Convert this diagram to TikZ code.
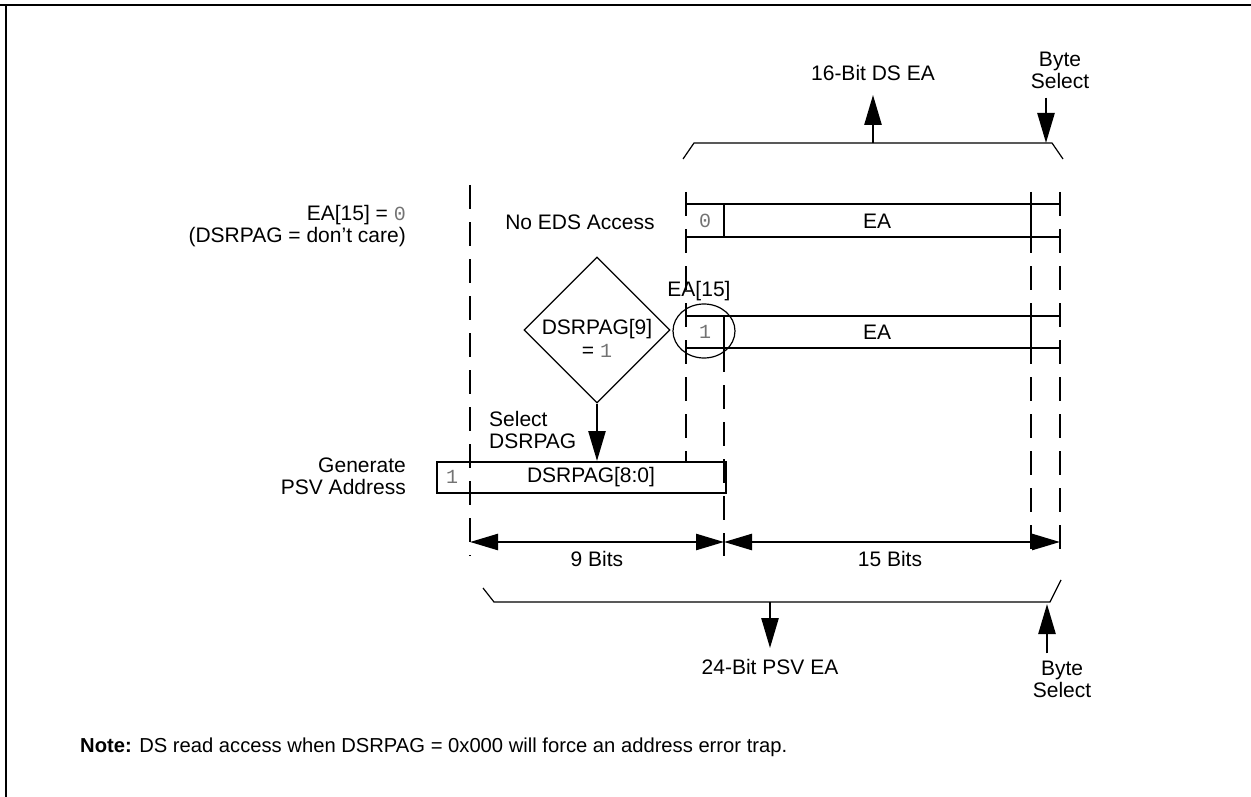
\documentclass[tikz,border=0pt]{standalone}
\usepackage{fontspec}
\setmainfont{Liberation Sans}
\newfontfamily\monof{Liberation Mono}
\usetikzlibrary{arrows.meta,shapes.geometric}
\definecolor{bitgray}{gray}{0.45}
\begin{document}
\begin{tikzpicture}[x=1pt,y=-1pt,
  txt/.style={font=\fontsize{21}{22}\selectfont, inner sep=0pt, align=center},
  bit/.style={font=\monof\fontsize{20}{22}\selectfont, text=bitgray, inner sep=0pt},
  dashv/.style={line width=2.3pt, dash pattern=on 24pt off 13pt},
  reg/.style={line width=2pt},
  thinl/.style={line width=1.2pt},
  arr/.style={line width=2.5pt, -{Triangle[length=30pt,width=17pt]}},
  dimarr/.style={line width=2.5pt, {Triangle[length=28pt,width=16pt]}-{Triangle[length=28pt,width=16pt]}}]
\useasboundingbox (0,0) rectangle (1251,797);
% frame
\draw[line width=2.5pt] (0,5) -- (1251,5);
\draw[line width=2pt] (6,5) -- (6,797);

% dashed column guides
\coordinate (v1t) at (470,185); \coordinate (v1b) at (470,556);
\coordinate (v2t) at (686,192); \coordinate (v2b) at (686,462);
\coordinate (v3t) at (724,348); \coordinate (v3b) at (724,556);
\coordinate (v4t) at (1031,192); \coordinate (v4b) at (1031,556);
\coordinate (v5t) at (1060,192); \coordinate (v5b) at (1060,556);

% top brace
\coordinate (tb1) at (683,159); \coordinate (tb2) at (694,143);
\coordinate (tb3) at (1052,143); \coordinate (tb4) at (1063,159);
\coordinate (tbm) at (873,143);
\coordinate (tbs) at (1046,143);
\draw[thinl] (tb1) -- (tb2) -- (tb3) -- (tb4);
\node[txt] (ds16) at (873,73) {16-Bit DS EA};
\draw[arr] (tbm) -- ([yshift=-14pt]ds16.south);
\node[txt] (bsT) at (1060,70) {Byte\\Select};
\draw[arr] ([yshift=-9pt]bsT.south -| tbs) -- (tbs);

% row 1
\coordinate (r1a) at (686,204); \coordinate (r1b) at (1060,204);
\coordinate (r1c) at (686,237); \coordinate (r1d) at (1060,237);
\draw[reg] (r1a) -- (r1b); \draw[reg] (r1c) -- (r1d);
\draw[reg] (724,204) -- (724,237);
\draw[reg] (1031,204) -- (1031,237);
\node[bit] (b0) at (705,221) {0};
\node[txt] (ea1) at (877,221) {EA};
\node[txt] (noeds) at (580,222) {No EDS Access};

% row 2
\coordinate (r2a) at (686,316); \coordinate (r2b) at (1060,316);
\coordinate (r2c) at (686,348); \coordinate (r2d) at (1060,348);
\draw[reg] (r2a) -- (r2b); \draw[reg] (r2c) -- (r2d);
\draw[reg] (724,316) -- (724,348);
\draw[reg] (1031,316) -- (1031,348);
\node[bit] (b1) at (705,332) {1};
\node[txt] (ea2) at (877,332) {EA};
\node[draw, thinl, ellipse, minimum width=62pt, minimum height=54pt, inner sep=0pt] (circ) at (704,331) {};
\node[txt] (ea15) at (699,291) {EA[15]};

% diamond
\node[draw, thinl, diamond, minimum width=146pt, minimum height=146pt, inner sep=0pt] (dia) at (597,330) {};
\node[txt] (diat) at (597,329) {DSRPAG[9]};
\node[txt] (diaeq) at (597,351) {= {\monof\fontsize{20}{22}\selectfont\color{bitgray}1}};

% DSRPAG box
\node[draw, reg, minimum width=289pt, minimum height=31pt, inner sep=0pt, anchor=north west] (pag) at (436,461) {};
\node[bit] (pb1) at (452,477) {1};
\node[txt] (pagt) at (591,477) {DSRPAG[8:0]};
\draw[arr] (dia.south) -- (dia.south |- pag.north);
\node[txt, align=left, anchor=west] (sel) at (489,430) {Select\\DSRPAG};

% left labels
\node[txt, align=right, anchor=east] (lab1) at (406,226) {EA[15] = {\monof\fontsize{20}{22}\selectfont\color{bitgray}0}\\(DSRPAG = don’t care)};
\node[txt, align=right, anchor=east] (lab2) at (406,476) {Generate\\PSV Address};

% dashed guides drawn
\draw[dashv] (v1t) -- (v1b);
\draw[dashv] (v2t) -- (v2b);
\draw[dashv] (v3t) -- (v3b);
\draw[dashv] (v4t) -- (v4b);
\draw[dashv] (v5t) -- (v5b);

% dimensions
\coordinate (m1) at (470,542); \coordinate (m2) at (724,542); \coordinate (m3) at (1060,542);
\draw[dimarr] (m1) -- (m2);
\draw[dimarr] (m2) -- (m3);
\node[txt] (nb9) at (597,559) {9 Bits};
\node[txt] (nb15) at (890,559) {15 Bits};

% bottom brace
\coordinate (bb1) at (483,588); \coordinate (bb2) at (494,602);
\coordinate (bb3) at (1050,602); \coordinate (bb4) at (1061,580);
\coordinate (bbm) at (770,602); \coordinate (bbs) at (1047,604);
\draw[thinl] (bb1) -- (bb2) -- (bb3) -- (bb4);
\node[txt] (psv) at (770,667) {24-Bit PSV EA};
\draw[arr] (bbm) -- ([yshift=11pt]psv.north);
\node[txt] (bsB) at (1062,679) {Byte\\Select};
\draw[arr] ([yshift=7pt]bsB.north -| bbs) -- (bbs);

% note
\node[font=\fontsize{20.2}{22}\selectfont, inner sep=0pt, anchor=west] (note) at (80,747) {\textbf{Note:} DS read access when DSRPAG = 0x000 will force an address error trap.};
\end{tikzpicture}
\end{document}
